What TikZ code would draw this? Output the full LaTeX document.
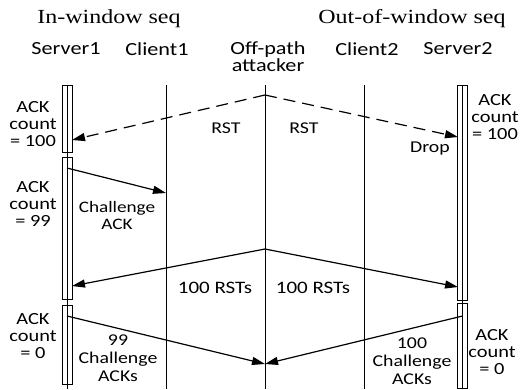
\documentclass[tikz,border=0pt]{standalone}
\usepackage{fontspec}
\setmainfont{Carlito}[FakeStretch=1.2]
\newfontfamily\headfont{Liberation Serif}
\usetikzlibrary{arrows.meta,calc}

\newcommand{\headtext}[1]{\scalebox{1.2}[1]{#1}}

\tikzset{
  head/.style={font=\headfont\fontsize{20}{22}\selectfont, inner sep=0pt},
  party/.style={font=\fontsize{18.5}{15.5}\selectfont, align=center, inner sep=0pt},
  count/.style={font=\fontsize{17}{17}\selectfont, align=center, inner sep=0pt},
  msgtext/.style={font=\fontsize{16.5}{18}\selectfont, align=center, inner sep=0pt},
  lifeline/.style={line width=1pt},
  actbox/.style={line width=0.9pt},
  msg/.style={line width=1.2pt, -{Triangle[length=13pt,width=8pt]}},
}

\begin{document}
\begin{tikzpicture}[x=1pt,y=-1pt]
    \useasboundingbox (0,0) rectangle (526,389);
    % headers
    \node[head] (inwin) at (109,19) {\headtext{In-window seq}};
    \node[head] (outwin) at (412,19) {\headtext{Out-of-window seq}};
    % participants
    \node[party] (s1) at (66,49) {Server1};
    \node[party] (c1) at (157,49) {Client1};
    \node[party] (att) at (268,57) {Off-path\\attacker};
    \node[party] (c2) at (367,49) {Client2};
    \node[party] (s2) at (458,49) {Server2};
    % lifelines
    \foreach \n/\x in {s1/67, c1/166, att/265, c2/364, s2/462.5}{
        \coordinate (\n top) at (\x,85);
        \coordinate (\n bot) at (\x,389);
        \draw[lifeline] (\n top) -- (\n bot);
    }
    % activation boxes
    \draw[actbox] (62,85) rectangle (72,152);
    \draw[actbox] (62,157) rectangle (72,299);
    \draw[actbox] (62,305) rectangle (72,384);
    \draw[actbox] (457.5,85) rectangle (467.5,300);
    \draw[actbox] (457.5,303) rectangle (467.5,388);
    % spoofed RST probe
    \coordinate (rst) at (265,95);
    \coordinate (rst1) at (72,140);
    \coordinate (rst2) at (458,137);
    \draw[msg, dash pattern=on 12pt off 7pt] (rst) -- (rst1);
    \draw[msg, dash pattern=on 12pt off 7pt] (rst) -- (rst2);
    \node[msgtext] (rstl) at (226,128) {RST};
    \node[msgtext] (rstr) at (304,128) {RST};
    \node[msgtext] (drop) at (430,149) {Drop};
    % challenge ACK
    \coordinate (cha) at (67,168);
    \coordinate (chb) at (166,193);
    \draw[msg] (cha) -- (chb);
    \node[msgtext, font=\fontsize{16}{17}\selectfont] (chl) at (117,215) {Challenge\\ACK};
    % 100 RSTs
    \coordinate (many) at (265,249);
    \coordinate (many1) at (72,286);
    \coordinate (many2) at (458,287);
    \draw[msg] (many) -- (many1);
    \draw[msg] (many) -- (many2);
    \node[msgtext, font=\fontsize{17.5}{18}\selectfont] (manyl) at (215,288) {100 RSTs};
    \node[msgtext, font=\fontsize{17.5}{18}\selectfont] (manyr) at (313,288) {100 RSTs};
    % challenge ACKs
    \coordinate (ack1) at (67,316);
    \coordinate (ack2) at (462.5,316);
    \coordinate (acks) at (265,364);
    \draw[msg] (ack1) -- (acks);
    \draw[msg] (ack2) -- (acks);
    \node[msgtext] (acksl) at (118,358) {99\\Challenge\\ACKs};
    \node[msgtext] (acksr) at (412,361) {100\\Challenge\\ACKs};
    % ACK counters
    \node[count] (n1) at (33,124) {ACK\\count\\= 100};
    \node[count] (n2) at (33,204) {ACK\\count\\= 99};
    \node[count] (n3) at (33,336) {ACK\\count\\= 0};
    \node[count] (n4) at (495,117) {ACK\\count\\= 100};
    \node[count] (n5) at (492,352) {ACK\\count\\= 0};
\end{tikzpicture}
\end{document}
